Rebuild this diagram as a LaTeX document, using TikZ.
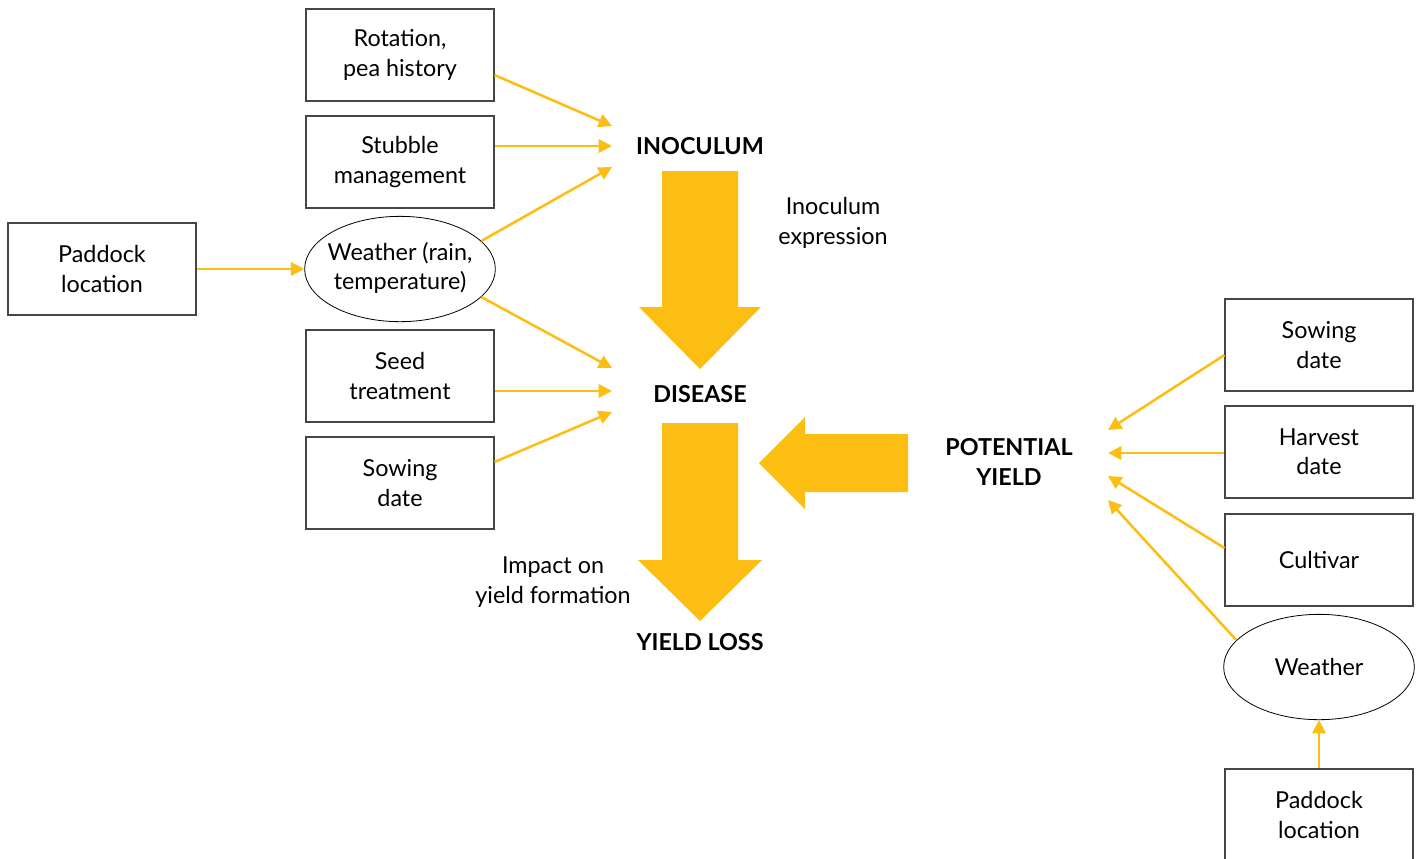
\documentclass[tikz,border=0pt]{standalone}
\usepackage{fontspec}
\setmainfont{Lato}
\usetikzlibrary{arrows.meta,shapes.geometric}
\definecolor{peaYellow}{RGB}{252,190,18}
\definecolor{boxGray}{RGB}{70,70,70}
% keeps wide text from blowing up the oval
\newcommand{\ovaltext}[1]{\makebox[60pt]{\begin{tabular}{@{}c@{}}#1\end{tabular}}}

\begin{document}
\begin{tikzpicture}[x=0.75pt,y=-0.75pt,
    every node/.style={font=\fontsize{17.5}{22}\selectfont, align=center, inner sep=2pt},
    fac/.style={draw=boxGray, line width=0.8pt, minimum width=141pt, minimum height=69pt},
    env/.style={draw=black, ellipse, line width=0.6pt, minimum width=143pt, minimum height=79pt},
    stage/.style={font=\fontsize{17.5}{22}\selectfont\bfseries},
    feed/.style={-{Triangle[length=10pt,width=10pt]}, peaYellow, line width=1.9pt},
    bigarrow/.style={fill=peaYellow}
  ]
    \useasboundingbox (0,0) rectangle (1419,858);
    % left side factors
    \node[fac] (rot) at (400,55) {Rotation,\\pea history};
    \node[fac] (stub) at (400,162) {Stubble\\management};
    \node[env] (wthL) at (400,269) {\ovaltext{Weather (rain,\\temperature)}};
    \node[fac] (padL) at (102,269) {Paddock\\location};
    \node[fac] (seed) at (400,376) {Seed\\treatment};
    \node[fac] (sowL) at (400,483) {Sowing\\date};
    % stages
    \node[stage] (inoc) at (700,146) {INOCULUM};
    \node[stage] (dis) at (700,394) {DISEASE};
    \node[stage] (loss) at (700,642) {YIELD LOSS};
    \node[stage] (pot) at (1009,462) {POTENTIAL\\YIELD};
    \node (expr) at (833,223) {Inoculum\\expression};
    \node (impact) at (553,582) {Impact on\\yield formation};
    % right side factors
    \node[fac] (sowR) at (1319,345) {Sowing\\date};
    \node[fac] (harv) at (1319,452) {Harvest\\date};
    \node[fac] (cult) at (1319,560) {Cultivar};
    \node[env] (wthR) at (1319,667) {Weather};
    \node[fac] (padR) at (1319,815) {Paddock\\location};
    % big arrows
    \fill[bigarrow] (662,171) -- (738,171) -- (738,307) -- (761,307) -- (700,369)
      -- (639,307) -- (662,307) -- cycle;
    \fill[bigarrow] (662,423) -- (738,423) -- (738,560) -- (762,560) -- (700,621)
      -- (638,560) -- (662,560) -- cycle;
    \fill[bigarrow] (908,434) -- (908,492) -- (805,492) -- (805,509) -- (759,463)
      -- (805,417) -- (805,434) -- cycle;
    % arrow ends
    \coordinate (i1) at (612,126);
    \coordinate (i2) at (612,146);
    \coordinate (i3) at (612,167);
    \coordinate (d1) at (612,368);
    \coordinate (d2) at (612,391);
    \coordinate (d3) at (612,412);
    \coordinate (p1) at (1108,430);
    \coordinate (p2) at (1108,453);
    \coordinate (p3) at (1108,476);
    \coordinate (p4) at (1108,500);
    % thin arrows
    \draw[feed] (rot.east |- 0,75) -- (i1);
    \draw[feed] (stub.east |- i2) -- (i2);
    \draw[feed] (wthL.19) -- (i3);
    \draw[feed] (wthL.-19) -- (d1);
    \draw[feed] (seed.east |- d2) -- (d2);
    \draw[feed] (sowL.east |- 0,462) -- (d3);
    \draw[feed] (padL) -- (wthL);
    \draw[feed] (sowR.west |- 0,355) -- (p1);
    \draw[feed] (harv.west |- p2) -- (p2);
    \draw[feed] (cult.west |- 0,548) -- (p3);
    \draw[feed] (wthR.162) -- (p4);
    \draw[feed] (padR) -- (wthR);
\end{tikzpicture}
\end{document}
